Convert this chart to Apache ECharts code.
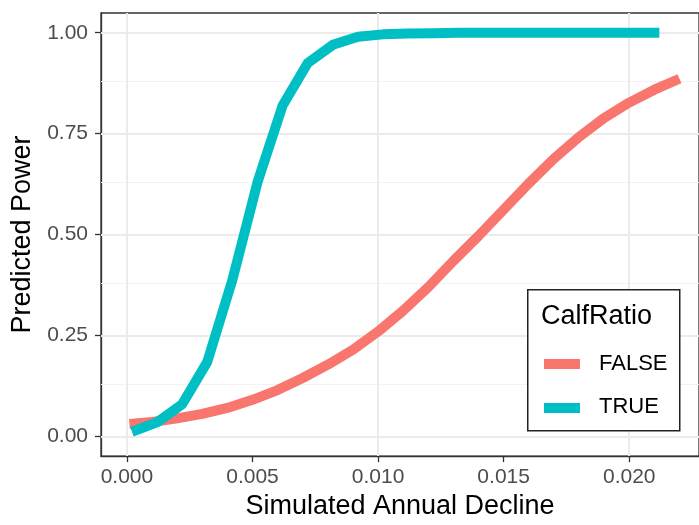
<!DOCTYPE html>
<html>
<head>
<meta charset="utf-8">
<script src="https://cdn.jsdelivr.net/npm/echarts@6/dist/echarts.min.js"></script>
<style>
html,body{margin:0;padding:0;background:#fff;}
#chart{width:699px;height:525px;}
</style>
</head>
<body>
<div id="chart"></div>
<script>
// ---- data ----
const falseX = [0.0001,0.001,0.002,0.003,0.004,0.005,0.006,0.007,0.008,0.009,0.010,0.011,0.012,0.013,0.014,0.015,0.016,0.017,0.018,0.019,0.020,0.021,0.022];
const falseY = [0.031,0.036,0.045,0.056,0.071,0.091,0.115,0.145,0.178,0.215,0.260,0.312,0.370,0.435,0.497,0.562,0.627,0.688,0.742,0.789,0.827,0.859,0.886];
const trueX = [0.0002,0.0012,0.0022,0.0032,0.0042,0.0052,0.0062,0.0072,0.0082,0.0092,0.0102,0.0112,0.0122,0.0132,0.0142,0.0152,0.0162,0.0172,0.0182,0.0192,0.0202,0.0212];
const trueY = [0.012,0.035,0.080,0.185,0.388,0.630,0.820,0.925,0.970,0.990,0.996,0.998,0.999,1.000,1.000,1.000,1.000,1.000,1.000,1.000,1.000,1.000];
const xMajor = [0,0.005,0.010,0.015,0.020];
const xMinor = [0.0025,0.0075,0.0125,0.0175,0.0225];
const yMajor = [0,0.25,0.5,0.75,1.0];
const yMinor = [0.125,0.375,0.625,0.875];
const seriesNames = ['FALSE','TRUE'];
const colors = ['#F8766D','#00BFC4'];

const pairs = (xs, ys) => xs.map((x,i)=>[x, ys[i]]);

const chart = echarts.init(document.getElementById('chart'), null, {renderer:'canvas'});

const gridLines = [];
xMinor.forEach(v=>gridLines.push({xAxis:v, lineStyle:{color:'#F2F2F2', width:1.1, type:'solid'}}));
yMinor.forEach(v=>gridLines.push({yAxis:v, lineStyle:{color:'#F2F2F2', width:1.1, type:'solid'}}));
xMajor.forEach(v=>gridLines.push({xAxis:v, lineStyle:{color:'#EBEBEB', width:2, type:'solid'}}));
yMajor.forEach(v=>gridLines.push({yAxis:v, lineStyle:{color:'#EBEBEB', width:2, type:'solid'}}));

const FONT = 'Liberation Sans, Arial, sans-serif';

const option = {
  backgroundColor:'#ffffff',
  animation:false,
  grid:{left:101, top:13, right:-2, bottom:63.5, show:true, borderColor:'#333333', borderWidth:1.3, backgroundColor:'transparent', containLabel:false},
  xAxis:{
    type:'value', min:-0.0010317, max:0.022778,
    name:'Simulated Annual Decline', nameLocation:'middle', nameGap:32,
    nameTextStyle:{fontFamily:FONT, fontSize:27, color:'#000'},
    axisLine:{show:true, onZero:false, lineStyle:{color:'#333333', width:1.3}},
    axisTick:{show:true, length:6, lineStyle:{color:'#333333', width:1.3}, customValues:xMajor},
    axisLabel:{fontFamily:FONT, fontSize:21, color:'#4D4D4D', margin:11, customValues:xMajor, formatter:v=>v.toFixed(3)},
    splitLine:{show:false}
  },
  yAxis:{
    type:'value', min:-0.0484, max:1.0489,
    name:'Predicted Power', nameLocation:'middle', nameGap:63, nameRotate:90,
    nameTextStyle:{fontFamily:FONT, fontSize:27, color:'#000'},
    axisLine:{show:true, onZero:false, lineStyle:{color:'#333333', width:1.3}},
    axisTick:{show:true, length:6, lineStyle:{color:'#333333', width:1.3}, customValues:yMajor},
    axisLabel:{fontFamily:FONT, fontSize:21, color:'#4D4D4D', margin:13, customValues:yMajor, formatter:v=>v.toFixed(2)},
    splitLine:{show:false}
  },
  series:[
    {
      type:'line', name:'grid', data:[[0,0]], showSymbol:false, symbol:'none',
      lineStyle:{opacity:0}, silent:true, z:1,
      markLine:{silent:true, z:1, symbol:['none','none'], label:{show:false}, animation:false,
        lineStyle:{type:'solid'}, emphasis:{disabled:true}, data:gridLines}
    },
    {
      type:'line', name:seriesNames[0], data:pairs(falseX,falseY), showSymbol:false, symbol:'none',
      smooth:false, lineStyle:{color:colors[0], width:10, cap:'butt', join:'round'}, itemStyle:{color:colors[0]}, z:5
    },
    {
      type:'line', name:seriesNames[1], data:pairs(trueX,trueY), showSymbol:false, symbol:'none',
      smooth:false, lineStyle:{color:colors[1], width:10, cap:'butt', join:'round'}, itemStyle:{color:colors[1]}, z:6
    }
  ],
  graphic:[
    {type:'rect', left:527, top:289, shape:{width:152, height:141}, style:{fill:'#fff', stroke:'#222', lineWidth:1.5}, z:100},
    {type:'text', left:541, top:303, style:{text:'CalfRatio', font:'27px "Liberation Sans", Arial, sans-serif', fill:'#000'}, z:101},
    {type:'rect', left:544, top:359, shape:{width:36, height:10}, style:{fill:colors[0]}, z:101},
    {type:'text', left:599, top:353, style:{text:seriesNames[0], font:'22px "Liberation Sans", Arial, sans-serif', fill:'#000'}, z:101},
    {type:'rect', left:544, top:403, shape:{width:36, height:10}, style:{fill:colors[1]}, z:101},
    {type:'text', left:599, top:396, style:{text:seriesNames[1], font:'22px "Liberation Sans", Arial, sans-serif', fill:'#000'}, z:101}
  ]
};
chart.setOption(option);
</script>
</body>
</html>
